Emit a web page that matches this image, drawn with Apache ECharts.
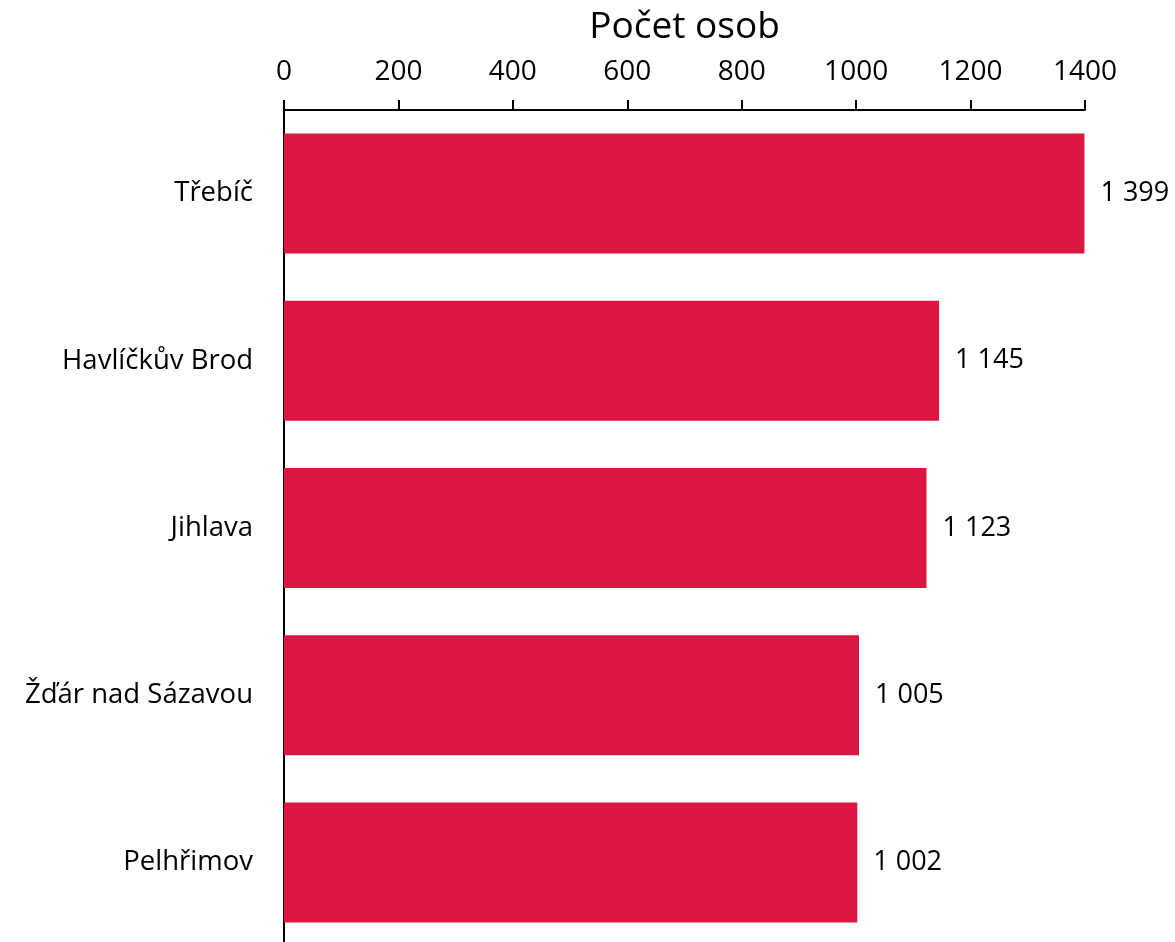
<!DOCTYPE html>
<html>
<head>
<meta charset="utf-8">
<script src="https://cdn.jsdelivr.net/npm/echarts@6/dist/echarts.min.js"></script>
<style>
html, body { margin: 0; padding: 0; background: #fff; }
#chart { width: 1175px; height: 942px; }
</style>
</head>
<body>
<div id="chart"></div>
<script>
var categories = ['Třebíč', 'Havlíčkův Brod', 'Jihlava', 'Žďár nad Sázavou', 'Pelhřimov'];
var values = [1399, 1145, 1123, 1005, 1002];
var axisTitle = 'Počet osob';

var font = '"Open Sans", "Liberation Sans", sans-serif';

function fmt(v) {
    return String(v).replace(/\B(?=(\d{3})+(?!\d))/g, ' ');
}

var chart = echarts.init(document.getElementById('chart'));
chart.setOption({
    backgroundColor: '#fff',
    animation: false,
    grid: {left: 284, top: 110, width: 801, height: 836, outerBoundsMode: 'none', containLabel: false},
    xAxis: {
        type: 'value',
        position: 'top',
        min: 0,
        max: 1400,
        interval: 200,
        name: axisTitle,
        nameLocation: 'middle',
        nameGap: 64,
        nameTextStyle: {fontFamily: font, fontSize: 37, color: '#000'},
        axisLine: {show: true, lineStyle: {color: '#000', width: 2}},
        axisTick: {show: true, length: 10, lineStyle: {color: '#000', width: 2}},
        axisLabel: {
            fontFamily: font, fontSize: 28, color: '#000', margin: 24,
            formatter: function (v) { return String(v); }
        },
        splitLine: {show: false}
    },
    yAxis: {
        type: 'category',
        data: categories,
        inverse: true,
        axisLine: {show: true, lineStyle: {color: '#000', width: 2}},
        axisTick: {show: false},
        axisLabel: {fontFamily: font, fontSize: 27.5, color: '#000', margin: 31}
    },
    series: [{
        type: 'bar',
        data: values,
        barWidth: 120,
        itemStyle: {color: '#DA1641'},
        label: {
            show: true,
            position: 'right',
            distance: 16,
            fontFamily: font,
            fontSize: 27,
            color: '#000',
            formatter: function (p) { return fmt(p.value); }
        }
    }]
});
</script>
</body>
</html>
